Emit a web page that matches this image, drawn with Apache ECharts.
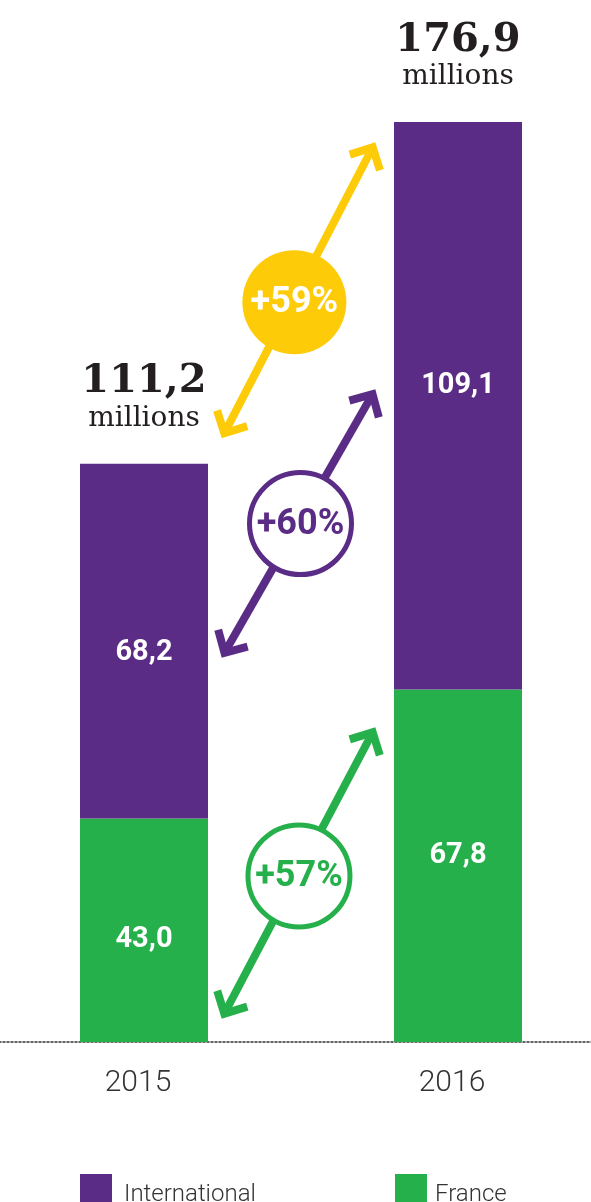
<!DOCTYPE html>
<html>
<head>
<meta charset="utf-8">
<script src="https://cdn.jsdelivr.net/npm/echarts/dist/echarts.min.js"></script>
<style>
html,body{margin:0;padding:0;background:#fff;}
#chart{width:591px;height:1202px;}
</style>
</head>
<body>
<div id="chart"></div>
<script>
// ---- data ----
const categories = ['2015', '2016'];
const france = [43.0, 67.8];
const international = [68.2, 109.1];
const totals = [111.2, 176.9];
const growthLabels = ['+59%', '+60%', '+57%'];
// arrow anchor values (data units) on the 2015 side and 2016 side
const arrowFrom = [116.2, 74.0, 4.6];
const arrowTo = [172.9, 125.4, 60.4];

// ---- styles ----
const PURPLE = '#5b2c86';
const GREEN = '#26b04b';
const YELLOW = '#fecb08';
const DARK = '#231f20';
const BAR_W = 128;
const arrowColors = [YELLOW, PURPLE, GREEN];
const circleAt = [0.46, 0.5, 0.49];
const intlOffsets = [[0, 12], [0, -20]];
const frOffsets = [[0, 10], [0, -10]];

const fmt = v => v.toFixed(1).replace('.', ',');

const chart = echarts.init(document.getElementById('chart'), null, {renderer: 'canvas'});

function renderArrow(params, api) {
  const i = params.dataIndex;
  const a = api.coord([0, api.value(1)]);
  const b = api.coord([1, api.value(2)]);
  const half = BAR_W / 2;
  const x0 = a[0] + half + 14, y0 = a[1];
  const x1 = b[0] - half - 19, y1 = b[1];
  const dx = x1 - x0, dy = y1 - y0;
  const len = Math.hypot(dx, dy);
  const ux = dx / len, uy = dy / len;
  const c = arrowColors[i];
  const W = 8, L = 24, inset = 5;
  const ang = Math.PI / 4;
  function head(tx, ty, bx, by) {
    const cs = Math.cos(ang), sn = Math.sin(ang);
    const r1 = [bx * cs - by * sn, bx * sn + by * cs];
    const r2 = [bx * cs + by * sn, -bx * sn + by * cs];
    return {
      type: 'polyline',
      shape: {points: [[tx + r1[0] * L, ty + r1[1] * L], [tx, ty], [tx + r2[0] * L, ty + r2[1] * L]]},
      style: {stroke: c, lineWidth: W, fill: null, lineJoin: 'miter', lineCap: 'butt'}
    };
  }
  const sx = x0 + ux * inset, sy = y0 + uy * inset;
  const ex = x1 - ux * inset, ey = y1 - uy * inset;
  const t = circleAt[i];
  const mx = x0 + dx * t + 2, my = y0 + dy * t;
  const filled = i === 0;
  return {
    type: 'group',
    children: [
      {type: 'line', shape: {x1: sx + ux * 3, y1: sy + uy * 3, x2: ex - ux * 3, y2: ey - uy * 3},
        style: {stroke: c, lineWidth: W}},
      head(ex, ey, -ux, -uy),
      head(sx, sy, ux, uy),
      {type: 'circle', shape: {cx: mx, cy: my, r: filled ? 52 : 51},
        style: filled ? {fill: c} : {fill: '#fff', stroke: c, lineWidth: 5}},
      {type: 'text', x: mx, y: my + 1,
        style: {text: growthLabels[i], fill: filled ? '#fff' : c, font: 'bold 36px Roboto',
          textAlign: 'center', textVerticalAlign: 'middle'}}
    ]
  };
}

const legendText = {fontFamily: 'Roboto', fontWeight: 300, fontSize: 24, color: '#333'};

const option = {
  animation: false,
  backgroundColor: '#fff',
  grid: {left: -13, right: -24, top: 2, bottom: 160, containLabel: false, outerBoundsMode: 'none'},
  legend: [
    {data: ['International'], left: 80, top: 1174, padding: 0, itemWidth: 32, itemHeight: 42, icon: 'rect',
      selectedMode: false, textStyle: Object.assign({padding: [0, 0, 0, 7]}, legendText)},
    {data: ['France'], left: 395, top: 1174, padding: 0, itemWidth: 32, itemHeight: 42, icon: 'rect',
      selectedMode: false, textStyle: Object.assign({padding: [0, 0, 0, 3]}, legendText)}
  ],
  xAxis: {
    type: 'category',
    data: categories,
    axisTick: {show: false},
    axisLine: {show: true, lineStyle: {color: '#333', type: [2, 2], width: 1.5}},
    axisLabel: {margin: 26, padding: [0, 12, 0, 0], fontFamily: 'Roboto', fontWeight: 300, fontSize: 30, color: '#333'}
  },
  yAxis: {type: 'value', min: 0, max: 200, show: false, splitLine: {show: false}},
  series: [
    {
      name: 'France', type: 'bar', stack: 'total', barWidth: BAR_W,
      itemStyle: {color: GREEN},
      data: france.map((v, i) => ({value: v, label: {offset: frOffsets[i]}})),
      label: {show: true, position: 'inside', formatter: p => fmt(p.value),
        fontFamily: 'Roboto', fontWeight: 'bold', fontSize: 29, color: '#fff'}
    },
    {
      name: 'International', type: 'bar', stack: 'total', barWidth: BAR_W,
      itemStyle: {color: PURPLE},
      data: international.map((v, i) => ({value: v, label: {offset: intlOffsets[i]}})),
      label: {show: true, position: 'inside', formatter: p => fmt(p.value),
        fontFamily: 'Roboto', fontWeight: 'bold', fontSize: 29, color: '#fff'}
    },
    {
      name: 'totals', type: 'scatter', symbolSize: 0, silent: true,
      itemStyle: {opacity: 1},
      data: totals,
      label: {
        show: true, position: 'top', distance: 30, opacity: 1,
        formatter: p => '{v|' + fmt(p.value) + '}\n{u|millions}',
        rich: {
          v: {fontFamily: 'DejaVu Serif', fontWeight: 'bold', fontSize: 40, lineHeight: 44, color: DARK, align: 'center'},
          u: {fontFamily: 'DejaVu Serif', fontSize: 28, lineHeight: 30, color: DARK, align: 'center'}
        }
      }
    },
    {
      name: 'growth', type: 'custom', silent: true, clip: false,
      renderItem: renderArrow,
      data: arrowFrom.map((v, i) => [0, v, arrowTo[i]]),
      encode: {x: 0, y: 1}
    }
  ]
};
chart.setOption(option);
</script>
</body>
</html>
